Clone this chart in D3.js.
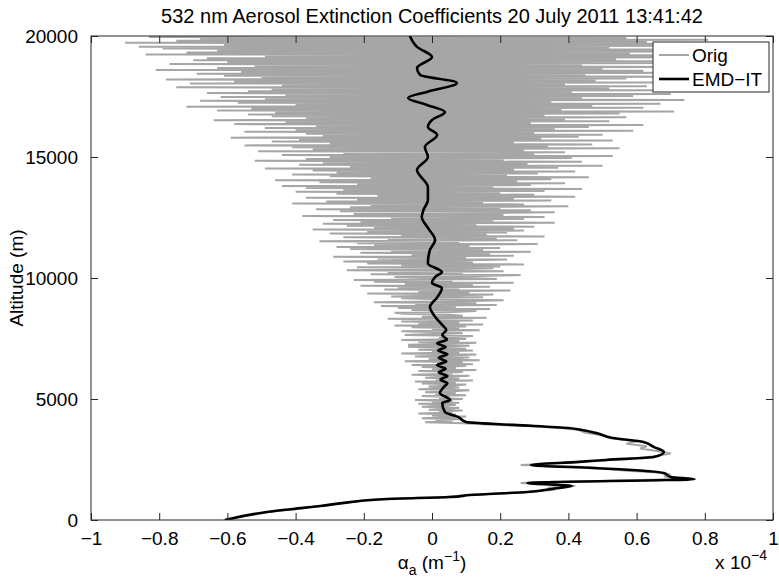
<!DOCTYPE html>
<html>
<head>
<meta charset="utf-8">
<script src="https://cdn.jsdelivr.net/npm/d3@7"></script>
<style>
  html, body { margin: 0; padding: 0; background: #fff; }
  svg { display: block; font-family: 'Liberation Sans', Arial, sans-serif; }
</style>
</head>
<body>
<svg id="chart" width="779" height="579"></svg>
<script>
'use strict';

/* ── data (extinction in units of 1e-4 m^-1, altitude in m) ── */
const titleText = '532 nm Aerosol Extinction Coefficients 20 July 2011 13:41:42';
const xTicks = [-1, -0.8, -0.6, -0.4, -0.2, 0, 0.2, 0.4, 0.6, 0.8, 1];
const yTicks = [0, 5000, 10000, 15000, 20000];
const seriesNames = ['Orig', 'EMD\u2212IT'];

// raw profile below 4 km (altitude, value)
const origLowAlt = [0, 150, 330, 420, 500, 560, 620, 740, 870, 950, 1030, 1160, 1250, 1330, 1400, 1460, 1530, 1600, 1690, 1740,
  1800, 1880, 1960, 2040, 2100, 2180, 2270, 2330, 2400, 2480, 2550, 2650, 2750, 2850, 2950, 3050, 3150, 3250, 3390, 3500,
  3600, 3720, 3800, 3880, 3950];
const origLowVal = [-0.61, -0.55, -0.48, -0.42, -0.38, -0.34, -0.30, -0.24, -0.14, 0.04, 0.11, 0.28, 0.36, 0.34, 0.42, 0.38, 0.26, 0.45, 0.74, 0.72,
  0.68, 0.70, 0.66, 0.57, 0.52, 0.47, 0.26, 0.35, 0.44, 0.52, 0.60, 0.66, 0.70, 0.66, 0.61, 0.63, 0.57, 0.60, 0.52, 0.50,
  0.45, 0.43, 0.38, 0.28, 0.16];

// raw profile from 4 km upward, one range bin every 40 m
const origHighStart = 4000;
const origHighStep = 40;
const origHighVal = [
  0.09,-0.02,0.06,0.01,0.08,-0.03,0.05,0.10,0.00,0.07,-0.04,0.06,0.02,0.09,-0.01,0.05,0.08,-0.03,0.04,0.07,
  -0.04,0.08,0.00,0.06,-0.05,0.09,0.02,0.05,-0.03,0.10,0.01,0.07,-0.02,0.06,0.11,-0.04,0.04,0.08,-0.01,0.06,
  0.10,-0.03,0.07,-0.05,0.12,0.01,0.08,-0.02,0.05,0.11,-0.06,0.06,0.03,0.09,-0.04,0.13,0.00,0.07,-0.03,0.10,
  -0.06,0.12,0.02,0.09,-0.08,0.14,-0.01,0.07,0.11,-0.05,0.05,0.13,-0.09,0.08,0.00,0.12,-0.04,0.10,0.03,-0.07,
  0.11,-0.07,0.05,0.13,-0.04,0.08,-0.09,0.10,0.02,0.07,0.12,-0.08,-0.02,0.09,0.04,-0.09,0.14,0.00,0.08,-0.06,
  0.10,-0.11,0.15,-0.04,0.08,-0.09,0.12,0.03,-0.13,0.16,-0.03,0.09,0.05,-0.08,-0.11,0.06,0.13,-0.06,0.17,-0.10,
  0.07,-0.15,0.19,-0.05,0.13,-0.17,0.09,0.21,0.03,-0.09,0.15,-0.12,0.04,0.18,-0.19,0.11,-0.04,0.23,-0.14,0.08,
  -0.10,0.17,-0.21,0.12,-0.08,0.24,-0.17,0.06,-0.23,0.19,0.10,-0.11,0.14,0.26,-0.18,0.09,-0.13,0.21,-0.25,0.05,
  0.18,-0.22,0.20,-0.09,0.27,-0.19,0.12,-0.26,0.07,0.22,-0.16,0.10,-0.29,0.24,-0.06,0.17,-0.21,0.29,-0.12,0.15,
  -0.24,0.20,-0.28,0.11,-0.17,0.31,-0.22,0.08,-0.33,0.25,-0.13,0.19,-0.26,0.33,-0.09,0.16,-0.30,0.22,-0.19,0.27,
  -0.35,0.24,-0.17,0.30,-0.25,0.13,-0.32,0.36,-0.21,0.18,-0.29,0.27,-0.12,0.33,-0.38,0.21,-0.23,0.15,0.36,-0.27,
  0.29,-0.34,0.20,-0.24,0.40,-0.18,0.27,-0.41,0.15,-0.31,0.35,-0.22,0.24,-0.37,0.42,-0.16,0.30,-0.28,0.20,-0.40,
  0.33,-0.26,0.44,-0.37,0.18,-0.44,0.29,-0.22,0.39,-0.33,0.25,-0.46,0.35,-0.18,0.46,-0.30,0.22,-0.41,0.31,-0.28,
  0.42,-0.35,0.24,-0.49,0.37,-0.24,0.50,-0.39,0.28,-0.32,0.44,-0.52,0.21,-0.37,0.41,-0.30,0.53,-0.44,0.30,-0.26,
  0.39,-0.51,0.27,-0.35,0.55,-0.41,0.34,-0.55,0.47,-0.30,0.24,-0.47,0.53,-0.39,0.32,-0.59,0.43,-0.32,0.50,-0.37,
  0.30,-0.55,0.59,-0.40,0.36,-0.49,0.46,-0.34,0.62,-0.58,0.29,-0.43,0.52,-0.64,0.39,-0.37,0.57,-0.47,0.33,-0.54,
  0.55,-0.46,0.71,-0.63,0.38,-0.53,0.62,-0.72,0.47,-0.40,0.67,-0.57,0.35,-0.68,0.74,-0.49,0.44,-0.62,0.59,-0.43,
  0.70,-0.66,0.41,-0.54,0.77,-0.47,0.52,-0.75,0.63,-0.44,0.39,-0.71,0.68,-0.58,0.48,-0.78,0.57,-0.50,0.73,-0.61,
  0.45,-0.69,0.80,-0.56,0.62,-0.81,0.50,-0.63,0.75,-0.52,0.44,-0.77,0.69,-0.60,0.83,-0.70,0.54,-0.66,0.78,-0.49,
  0.66,-0.84,0.58,-0.72,0.85,-0.63,0.71,-0.79,0.52,-0.86,0.88,-0.61,0.74,-0.90,0.63,-0.75,0.81,-0.68,0.57,-0.83
];

// EMD-IT denoised profile (altitude, value)
const emdAlt = [0, 330, 500, 580, 740, 870, 950, 1030, 1160, 1300, 1400, 1530, 1690, 1780, 1940, 2100, 2150, 2270, 2400, 2480,
  2600, 2810, 3020, 3220, 3390, 3600, 3720, 3800, 3930, 4050, 4260, 4460, 4830, 4960, 5250, 5500, 5650, 5800, 5950, 6100,
  6250, 6400, 6550, 6700, 6850, 7000, 7150, 7300, 7450, 7640, 7850, 8060, 8400, 8800, 9200, 9590, 9790, 10040, 10250, 10600,
  11160, 11570, 12070, 12520, 12810, 13220, 13760, 14460, 15000, 15410, 15910, 16240, 16530, 16860, 17150, 17440, 17690, 18060, 18390, 18680,
  19130, 19550, 20000];
const emdVal = [-0.607, -0.484, -0.378, -0.328, -0.24, -0.132, 0.053, 0.111, 0.28, 0.36, 0.41, 0.28, 0.77, 0.70, 0.68, 0.55, 0.47, 0.29, 0.43, 0.51,
  0.65, 0.68, 0.65, 0.62, 0.53, 0.48, 0.44, 0.40, 0.24, 0.10, 0.076, 0.038, 0.03, 0.053, 0.023, 0.035, 0.045, 0.025, 0.045, 0.02,
  0.04, 0.015, 0.042, 0.02, 0.045, 0.018, 0.04, 0.015, 0.044, 0.03, 0.042, 0.03, 0.009, -0.006, 0.015, 0.029, 0.0, 0.009, 0.029, -0.012,
  -0.006, 0.009, -0.012, -0.03, -0.025, -0.012, -0.012, -0.044, -0.012, -0.021, 0.015, -0.012, 0.0, 0.038, -0.015, -0.07, -0.015, 0.073, -0.035, -0.044,
  0.0, -0.044, -0.065];

/* ── layout ───────────────────────────────── */
const svg = d3.select('#chart');
const M = { left: 91, right: 773, top: 36, bottom: 520 };
const FS = 19;
const ORIG_COLOR = '#a6a6a6';
const AX = '#262626';

const x = d3.scaleLinear().domain([-1, 1]).range([M.left, M.right]);
const y = d3.scaleLinear().domain([0, 20000]).range([M.bottom, M.top]);

svg.append('rect').attr('width', 779).attr('height', 579).attr('fill', '#fff');

svg.append('defs').append('clipPath').attr('id', 'plot-clip')
  .append('rect')
  .attr('x', M.left).attr('y', M.top)
  .attr('width', M.right - M.left).attr('height', M.bottom - M.top);

/* ── series ───────────────────────────────── */
const origPts = origLowAlt.map((a, i) => [origLowVal[i], a])
  .concat(origHighVal.map((v, i) => [v, origHighStart + i * origHighStep]));
const emdPts = emdAlt.map((a, i) => [emdVal[i], a]);

const lineLin = d3.line().x(d => x(d[0])).y(d => y(d[1]));
const lineSmooth = d3.line().x(d => x(d[0])).y(d => y(d[1])).curve(d3.curveMonotoneY);

const plot = svg.append('g').attr('clip-path', 'url(#plot-clip)');
plot.append('path').datum(origPts)
  .attr('d', lineLin)
  .attr('fill', 'none')
  .attr('stroke', ORIG_COLOR)
  .attr('stroke-width', 2)
  .attr('stroke-linejoin', 'miter');
plot.append('path').datum(emdPts)
  .attr('d', lineSmooth)
  .attr('fill', 'none')
  .attr('stroke', '#000')
  .attr('stroke-width', 2.6)
  .attr('stroke-linejoin', 'round');

/* ── axes (MATLAB style box, inward ticks) ─ */
const TL = 7;
const fmtX = d => (d < 0 ? '\u2212' : '') + String(Math.abs(+d.toFixed(1)));

const bottomAx = svg.append('g').attr('transform', `translate(0,${M.bottom})`)
  .call(d3.axisBottom(x).tickValues(xTicks).tickSizeInner(-TL).tickSizeOuter(0).tickPadding(TL + 5).tickFormat(fmtX));
const topAx = svg.append('g').attr('transform', `translate(0,${M.top})`)
  .call(d3.axisTop(x).tickValues(xTicks).tickSizeInner(-TL).tickSizeOuter(0).tickFormat(''));
const leftAx = svg.append('g').attr('transform', `translate(${M.left},0)`)
  .call(d3.axisLeft(y).tickValues(yTicks).tickSizeInner(-TL).tickSizeOuter(0).tickPadding(TL + 6).tickFormat(d3.format('d')));
const rightAx = svg.append('g').attr('transform', `translate(${M.right},0)`)
  .call(d3.axisRight(y).tickValues(yTicks).tickSizeInner(-TL).tickSizeOuter(0).tickFormat(''));

[bottomAx, topAx, leftAx, rightAx].forEach(g => {
  g.select('.domain').remove();
  g.selectAll('line').attr('stroke', AX).attr('stroke-width', 1);
  g.selectAll('text').attr('font-size', FS).attr('font-family', null).attr('fill', '#000');
});
bottomAx.selectAll('text').attr('dy', '0.71em');

svg.append('rect')
  .attr('x', M.left).attr('y', M.top)
  .attr('width', M.right - M.left).attr('height', M.bottom - M.top)
  .attr('fill', 'none').attr('stroke', AX).attr('stroke-width', 1);

/* ── labels ───────────────────────────────── */
svg.append('text')
  .attr('x', (M.left + M.right) / 2).attr('y', 23)
  .attr('text-anchor', 'middle').attr('font-size', 20)
  .text(titleText);

svg.append('text')
  .attr('transform', `translate(23,${(M.top + M.bottom) / 2}) rotate(-90)`)
  .attr('text-anchor', 'middle').attr('font-size', FS)
  .text('Altitude (m)');

const xl = svg.append('text')
  .attr('x', (M.left + M.right) / 2).attr('y', 569)
  .attr('text-anchor', 'middle').attr('font-size', FS);
xl.append('tspan').text('\u03b1');
xl.append('tspan').attr('font-size', 14).attr('dy', 6).text('a');
xl.append('tspan').attr('dy', -6).text(' (m');
xl.append('tspan').attr('font-size', 14).attr('dy', -8).text('\u22121');
xl.append('tspan').attr('dy', 8).text(')');

const xs = svg.append('text')
  .attr('x', 767).attr('y', 569)
  .attr('text-anchor', 'end').attr('font-size', FS);
xs.append('tspan').text('x 10');
xs.append('tspan').attr('font-size', 14).attr('dy', -9).text('\u22124');

/* ── legend ───────────────────────────────── */
const lg = svg.append('g');
lg.append('rect')
  .attr('x', 653).attr('y', 42).attr('width', 116).attr('height', 50)
  .attr('fill', '#fff').attr('stroke', AX).attr('stroke-width', 1);
const legendColors = [ORIG_COLOR, '#000'];
const legendWidths = [2, 2.6];
seriesNames.forEach((name, i) => {
  const ly = 55 + i * 24;
  lg.append('line')
    .attr('x1', 659).attr('x2', 689).attr('y1', ly).attr('y2', ly)
    .attr('stroke', legendColors[i]).attr('stroke-width', legendWidths[i]);
  lg.append('text')
    .attr('x', 692).attr('y', ly).attr('dy', '0.35em')
    .attr('font-size', FS).text(name);
});
</script>
</body>
</html>
